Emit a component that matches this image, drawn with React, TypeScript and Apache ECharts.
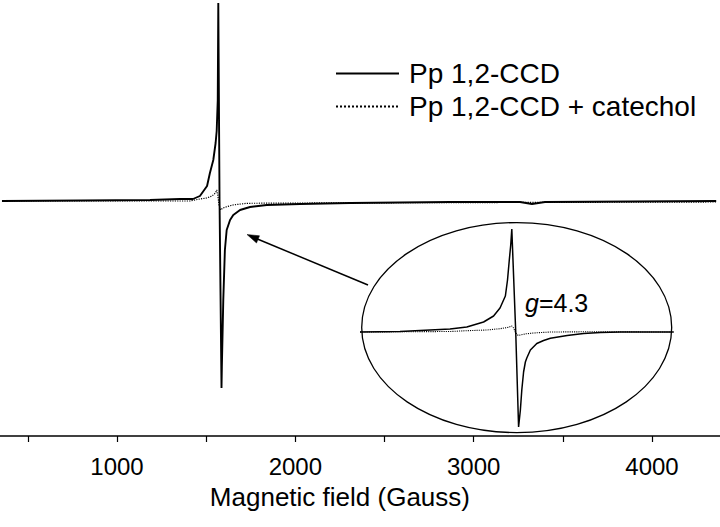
import React, { useEffect, useRef } from "react";
import * as echarts from "echarts";

// ---- main spectrum (Gauss, arbitrary units) ----
const mainField = [355, 800, 1185, 1353, 1426, 1465, 1493, 1505, 1521, 1540, 1553, 1559, 1565, 1568, 1575, 1586, 1588, 1596, 1605, 1615, 1634, 1652, 1690, 1746, 1840, 2026, 2307, 2867, 3260, 3327, 3400, 4360];
const mainSolid = [0, 0.005, 0.01, 0.02, 0.02, 0.05, 0.12, 0.15, 0.28, 0.41, 0.58, 0.7, 1.01, 1.98, 0, -1.87, -1.66, -0.99, -0.49, -0.29, -0.19, -0.14, -0.09, -0.06, -0.04, -0.03, -0.02, -0.01, -0.01, -0.03, -0.01, 0];
const mainDotField = [355, 1409, 1465, 1503, 1533, 1552, 1559, 1565, 1572, 1581, 1594, 1615, 1650, 1727, 2026, 4360];
const mainDotted = [0, 0, 0.02, 0.03, 0.05, 0.08, 0.11, 0.06, -0.04, -0.09, -0.07, -0.057, -0.04, -0.023, -0.02, -0.01];

// ---- inset (zoomed) spectrum ----
const insetField = [1136, 1248, 1388, 1435, 1482, 1510, 1528, 1543, 1549, 1554, 1558, 1561, 1572, 1580, 1585, 1589, 1594, 1599, 1603, 1613, 1631, 1650, 1669, 1716, 1762, 1809, 1865, 2014];
const insetSolid = [0, 0.005, 0.03, 0.05, 0.1, 0.16, 0.24, 0.36, 0.52, 0.72, 0.87, 1.03, 0, -0.95, -0.78, -0.58, -0.4, -0.3, -0.26, -0.18, -0.115, -0.085, -0.063, -0.035, -0.015, -0.005, 0, 0];
const insetDotField = [1136, 1388, 1435, 1491, 1528, 1552, 1561, 1566, 1572, 1579, 1585, 1601, 1621, 1669, 1762, 2014];
const insetDotted = [0, 0.005, 0.013, 0.02, 0.033, 0.047, 0.06, 0.04, -0.01, -0.035, -0.03, -0.018, -0.01, 0, 0.002, 0];

const seriesNames = ["Pp 1,2-CCD", "Pp 1,2-CCD + catechol"];
const xTitle = "Magnetic field (Gauss)";
const gLabel = "4.3";
const axisMin = 0;
const axisMax = 4500;
const tickStep = 500;
const labelStep = 1000;

const FONT = "'Liberation Sans', Arial, sans-serif";

const pairs = (xs: number[], ys: number[]) => xs.map((x, i) => [x, ys[i]]);

export default function App() {
  const ref = useRef<HTMLDivElement>(null);
  useEffect(() => {
    if (!ref.current) return;
    const chart = echarts.init(ref.current, null, { renderer: "svg" });
    const pxPerG = 535 / 3000;
    const left = 117 - 1000 * pxPerG;
    const width = (axisMax - axisMin) * pxPerG;
    chart.setOption({
      animation: false,
      backgroundColor: "#fff",
      textStyle: { fontFamily: FONT, color: "#000" },
      grid: [
        { left: left, width: width, top: 0, height: 436, outerBoundsMode: "none", containLabel: false },
        { left: 360, width: 313.6, top: 222, height: 210, outerBoundsMode: "none", containLabel: false },
      ],
      xAxis: [
        {
          type: "value",
          gridIndex: 0,
          min: axisMin,
          max: axisMax,
          interval: tickStep,
          name: xTitle,
          nameLocation: "middle",
          nameGap: 48,
          nameTextStyle: { fontSize: 26, color: "#000", fontFamily: FONT },
          axisLine: { show: true, onZero: false, lineStyle: { color: "#000", width: 1.5 } },
          axisTick: { show: true, length: 6, lineStyle: { color: "#000", width: 1.2 } },
          axisLabel: {
            margin: 18,
            fontSize: 24,
            color: "#000",
            fontFamily: FONT,
            formatter: (v: number) => (v % labelStep === 0 && v > axisMin && v < axisMax ? String(v) : ""),
          },
          splitLine: { show: false },
        },
        { type: "value", gridIndex: 1, min: 1136, max: 2014, show: false },
      ],
      yAxis: [
        { type: "value", gridIndex: 0, min: -2.35, max: 2.01, show: false },
        { type: "value", gridIndex: 1, min: -1.0, max: 1.1, show: false },
      ],
      legend: {
        data: seriesNames,
        orient: "vertical",
        left: 330,
        top: 52,
        itemWidth: 63,
        itemHeight: 14,
        itemGap: 0,
        itemStyle: { opacity: 0 },
        textStyle: { fontSize: 28, color: "#000", fontFamily: FONT, lineHeight: 33, padding: [0, 0, 0, 5] },
      },
      series: [
        {
          name: seriesNames[0],
          type: "line",
          xAxisIndex: 0,
          yAxisIndex: 0,
          data: pairs(mainField, mainSolid),
          showSymbol: false,
          symbol: "none",
          itemStyle: { color: "#000" },
          lineStyle: { color: "#000", width: 1.9 },
        },
        {
          name: seriesNames[1],
          type: "line",
          xAxisIndex: 0,
          yAxisIndex: 0,
          data: pairs(mainDotField, mainDotted),
          showSymbol: false,
          symbol: "none",
          itemStyle: { color: "#000" },
          lineStyle: { color: "#000", width: 1.2, type: "dotted" },
        },
        {
          name: "inset-solid",
          type: "line",
          xAxisIndex: 1,
          yAxisIndex: 1,
          data: pairs(insetField, insetSolid),
          showSymbol: false,
          symbol: "none",
          itemStyle: { color: "#000" },
          lineStyle: { color: "#000", width: 1.5 },
        },
        {
          name: "inset-dotted",
          type: "line",
          xAxisIndex: 1,
          yAxisIndex: 1,
          data: pairs(insetDotField, insetDotted),
          showSymbol: false,
          symbol: "none",
          itemStyle: { color: "#000" },
          lineStyle: { color: "#000", width: 1.1, type: "dotted" },
        },
      ],
      graphic: [
        {
          type: "ellipse",
          shape: { cx: 516.7, cy: 327.6, rx: 155, ry: 105 },
          style: { fill: "none", stroke: "#000", lineWidth: 1.3 },
          z: 1,
        },
        {
          type: "line",
          shape: { x1: 368, y1: 285, x2: 255, y2: 238 },
          style: { stroke: "#000", lineWidth: 1.5 },
        },
        {
          type: "polygon",
          shape: { points: [[247, 234.5], [259.5, 235.8], [256.5, 243]] },
          style: { fill: "#000", stroke: "#000", lineWidth: 0.5 },
        },
        {
          type: "text",
          x: 525,
          y: 303,
          style: {
            text: "{i|g}=" + gLabel,
            fontSize: 25,
            fontFamily: FONT,
            fill: "#000",
            verticalAlign: "middle",
            rich: { i: { fontStyle: "italic", fontSize: 25, fontFamily: FONT } },
          },
        },
      ],
    });
    return () => chart.dispose();
  }, []);
  return (
    <div
      ref={ref}
      style={{ position: "absolute", left: 0, top: 0, width: 720, height: 527, overflow: "hidden", background: "#fff" }}
    />
  );
}
